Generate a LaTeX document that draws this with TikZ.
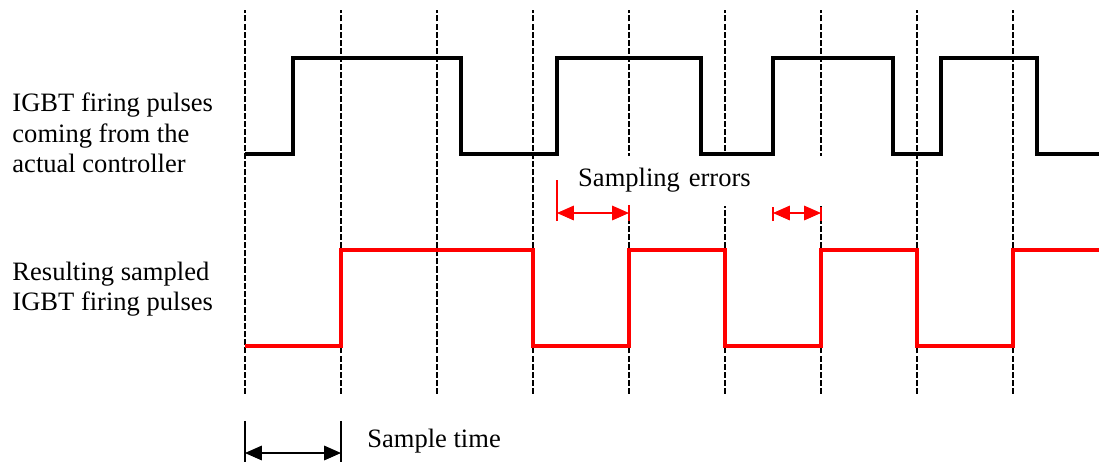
\documentclass[tikz,border=0pt]{standalone}
\usepackage{fontspec}
\setmainfont{Liberation Serif}
\usetikzlibrary{arrows.meta}

\begin{document}
\begin{tikzpicture}[x=1.5cm, y=1.5cm, >={Triangle[length=7.5pt,width=6.5pt]},
    font=\fontsize{11.8}{13.6}\selectfont,
    sampleline/.style={dash pattern=on 2.7pt off 0.9pt, line width=0.6pt},
    firing/.style={line width=1.6pt},
    sampled/.style={line width=1.8pt, red},
    tick/.style={line width=0.5pt},
    span/.style={<->, line width=0.5pt},
    note/.style={inner sep=0pt, align=left}]
    \useasboundingbox (-2.552,-1.219) rectangle (8.896,3.604);
    \foreach \t in {0,...,8}
        \draw [sampleline] (\t, -0.5) -- (\t, 3.5);

    \draw [firing] (0,2) -- (0.5,2) -- (0.5,3) -- (2.25,3) -- (2.25,2) -- (3.25,2) -- (3.25,3) -- (4.75,3) -- (4.75,2) -- (5.5,2) -- (5.5,3) -- (6.75,3) -- (6.75,2) -- (7.25,2) -- (7.25,3) -- (8.25,3) -- (8.25,2) -- (8.9,2);
    \draw [sampled] (0,0) -- (1,0) -- (1,1) -- (3,1) -- (3,0) -- (4,0) -- (4,1) -- (5,1) -- (5,0) -- (6,0) -- (6,1) -- (7,1) -- (7,0) -- (8,0) -- (8,1) -- (8.9,1);

    \node [note, anchor=base west] (ctrl) at (-2.427, 1.802) {IGBT firing pulses\\ coming from the\\ actual controller};
    \node [note, anchor=base west] (smpl) at (-2.427, 0.3646) {Resulting sampled\\ IGBT firing pulses};

    \node [note, fill=white, anchor=base west, text width=3.94cm, inner xsep=0.25cm, inner ysep=0.2cm] (errs) at (3.30, 1.656) {Sampling errors};
    \coordinate (e1a) at (3.25, 1.385);
    \coordinate (e1b) at (4, 1.385);
    \coordinate (e2a) at (5.5, 1.385);
    \coordinate (e2b) at (6, 1.385);
    \draw [tick, red] (3.25, 1.30) -- (3.25, 1.73);
    \draw [tick, red] (4, 1.30) -- (4, 1.47);
    \draw [tick, red] (5.5, 1.30) -- (5.5, 1.45);
    \draw [tick, red] (6, 1.30) -- (6, 1.45);
    \draw [span, red] (e1a) -- (e1b);
    \draw [span, red] (e2a) -- (e2b);

    \coordinate (ta) at (0, -1.115);
    \coordinate (tb) at (1, -1.115);
    \draw [tick] (0, -0.78) -- (0, -1.21);
    \draw [tick] (1, -0.78) -- (1, -1.21);
    \draw [span] (ta) -- (tb);
    \node [note, anchor=base west] (ts) at (1.27, -1.0625) {Sample time};
\end{tikzpicture}
\end{document}
